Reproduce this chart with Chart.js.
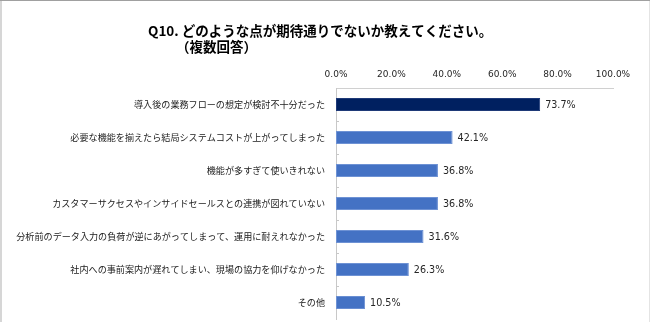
<!DOCTYPE html>
<html>
<head>
<meta charset="utf-8">
<script src="https://cdn.jsdelivr.net/npm/chart.js@4"></script>
<style>
  html, body { margin: 0; padding: 0; background: #fff; }
  #wrap { width: 650px; height: 322px; position: relative; }
</style>
</head>
<body>
<div id="wrap"><canvas id="c" width="650" height="322"></canvas></div>
<script>
// Survey answers (multiple choice), share of respondents in %
const categories = [
  '導入後の業務フローの想定が検討不十分だった',
  '必要な機能を揃えたら結局システムコストが上がってしまった',
  '機能が多すぎて使いきれない',
  'カスタマーサクセスやインサイドセールスとの連携が図れていない',
  '分析前のデータ入力の負荷が逆にあがってしまって、運用に耐えれなかった',
  '社内への事前案内が遅れてしまい、現場の協力を仰げなかった',
  'その他'
];
const values = [73.7, 42.1, 36.8, 36.8, 31.6, 26.3, 10.5];
const axisTicks = [0, 20, 40, 60, 80, 100];
const titleLines = ['Q10. どのような点が期待通りでないか教えてください。', '（複数回答）'];

const JP = '"Noto Sans CJK JP", "Noto Sans", sans-serif';
const LATIN = '"DejaVu Sans", sans-serif';

const barColors = values.map((v, i) => i === 0 ? '#002060' : '#4472C4');
const barBorders = values.map((v, i) => i === 0 ? '#1F3A78' : '#6E92D4');

// Page frame, title and value labels
const decor = {
  id: 'decor',
  beforeDraw(chart) {
    const ctx = chart.ctx;
    ctx.save();
    ctx.fillStyle = '#fff';
    ctx.fillRect(0, 0, chart.width, chart.height);
    ctx.fillStyle = '#a0a0a0';
    ctx.fillRect(0, 0, chart.width, 1);
    ctx.fillStyle = '#d6d6d6';
    ctx.fillRect(0, 1, 2, chart.height - 1);
    ctx.fillStyle = '#e4e4e4';
    ctx.fillRect(chart.width - 1, 1, 1, chart.height - 1);
    ctx.restore();
  },
  afterDraw(chart) {
    const ctx = chart.ctx;
    ctx.save();
    // title
    ctx.fillStyle = '#000';
    ctx.font = 'bold 13.5px ' + JP;
    ctx.textBaseline = 'middle';
    ctx.textAlign = 'left';
    ctx.fillText(titleLines[0], 148, 31);
    ctx.fillText(titleLines[1], 176, 47);

    // small inward ticks on the category axis
    const y = chart.scales.y;
    const x0 = chart.chartArea.left;
    ctx.strokeStyle = '#c8c8c8';
    ctx.lineWidth = 1;
    for (let i = 1; i < categories.length; i++) {
      const py = Math.round((y.getPixelForValue(i - 1) + y.getPixelForValue(i)) / 2) + 0.5;
      ctx.beginPath();
      ctx.moveTo(x0, py);
      ctx.lineTo(x0 + 3, py);
      ctx.stroke();
    }

    // value labels
    const meta = chart.getDatasetMeta(0);
    ctx.fillStyle = '#262626';
    ctx.font = '9.6px ' + LATIN;
    ctx.textAlign = 'left';
    ctx.textBaseline = 'middle';
    meta.data.forEach((bar, i) => {
      ctx.fillText(values[i].toFixed(1) + '%', bar.x + 5, bar.y + 0.5);
    });
    ctx.restore();
  }
};

new Chart(document.getElementById('c'), {
  type: 'bar',
  data: {
    labels: categories,
    datasets: [{
      data: values,
      backgroundColor: barColors,
      borderColor: barBorders,
      borderWidth: 1,
      borderSkipped: false,
      barPercentage: 0.4,
      categoryPercentage: 1.0
    }]
  },
  options: {
    indexAxis: 'y',
    responsive: false,
    animation: false,
    devicePixelRatio: 1,
    layout: { padding: { left: 0, top: 60, right: 37, bottom: 3 } },
    plugins: {
      legend: { display: false },
      title: { display: false },
      tooltip: { enabled: false }
    },
    scales: {
      x: {
        position: 'top',
        min: 0,
        max: 100,
        afterBuildTicks(scale) { scale.ticks = axisTicks.map(v => ({ value: v })); },
        afterFit(scale) { scale.height = 28; },
        ticks: {
          callback: v => v.toFixed(1) + '%',
          color: '#262626',
          font: { family: LATIN, size: 9 },
          padding: 8,
          maxRotation: 0
        },
        grid: { display: false, drawTicks: false },
        border: { display: true, color: '#d0d0d0', width: 1 }
      },
      y: {
        afterFit(scale) {
          scale.width = 336;
          scale.paddingTop = 0;
          scale.paddingBottom = 0;
        },
        ticks: {
          color: '#1a1a1a',
          font: { family: JP, size: 9.1 },
          padding: 11,
          autoSkip: false
        },
        grid: { display: false, drawTicks: false },
        border: { display: true, color: '#c8c8c8', width: 1 }
      }
    }
  },
  plugins: [decor]
});
</script>
</body>
</html>
